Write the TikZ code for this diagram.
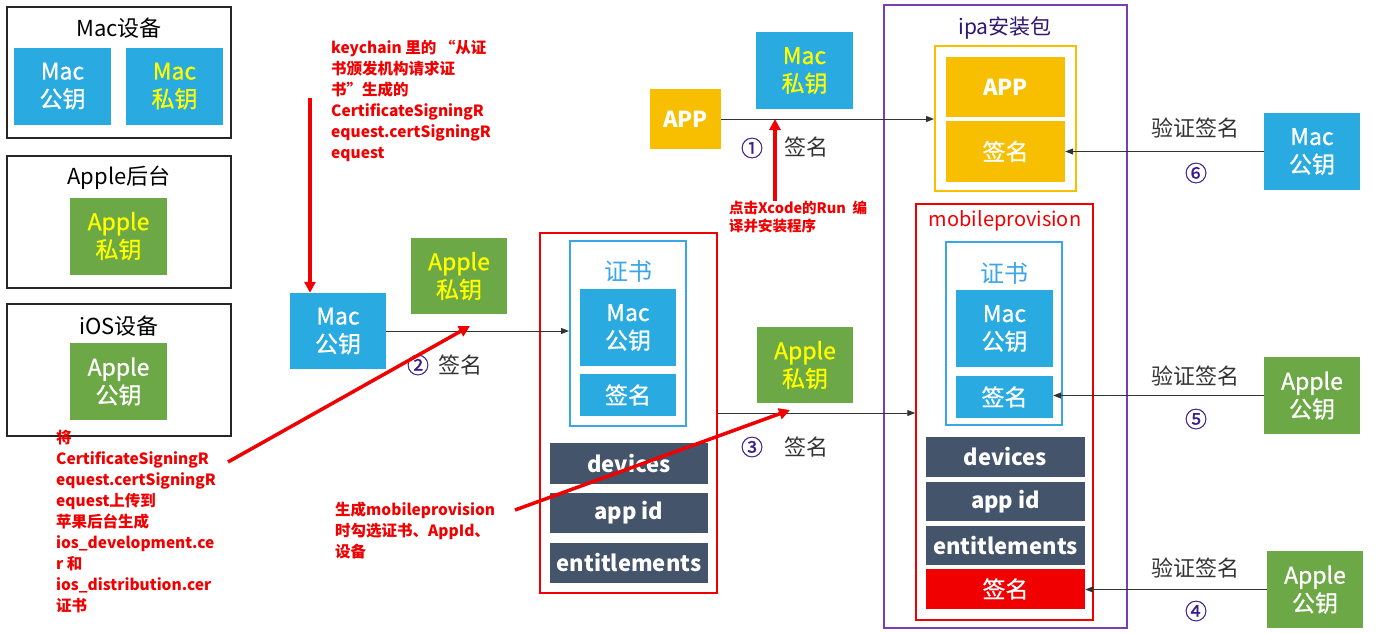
\documentclass[tikz,border=0pt]{standalone}
\usepackage{fontspec}
\setmainfont{Noto Sans CJK SC}
\newfontfamily\medfont[FakeBold=0.8]{Noto Sans CJK SC}
\usetikzlibrary{arrows.meta}
\definecolor{kblue}{HTML}{29ABE2}
\definecolor{kcert}{HTML}{3AA6E6}
\definecolor{kgreen}{HTML}{6CA845}
\definecolor{kyellow}{HTML}{F8BF00}
\definecolor{kslate}{HTML}{44546A}
\definecolor{kpurple}{HTML}{7A3DB8}
\definecolor{knum}{HTML}{3B1C8C}
\definecolor{kyt}{HTML}{FFFF00}
\definecolor{kred}{HTML}{F00000}
\definecolor{kgray}{HTML}{333333}
\tikzset{
  key/.style={minimum width=97pt, minimum height=77pt, inner sep=0pt, align=center, font=\medfont\fontsize{23}{28}\selectfont},
  bluekey/.style={key, fill=kblue, text=white},
  bluepriv/.style={key, fill=kblue, text=kyt},
  greenpub/.style={key, fill=kgreen, text=white},
  greenpriv/.style={key, fill=kgreen, text=kyt},
  frame/.style={draw=black!85, line width=1.5pt, inner sep=0pt},
  title/.style={font=\fontsize{22}{24}\selectfont, inner sep=0pt},
  bar/.style={fill=kslate, text=white, inner sep=0pt, font=\bfseries\fontsize{22}{26}\selectfont},
  note/.style={text=kred, font=\bfseries\fontsize{15.5}{21}\selectfont, align=left, inner sep=0pt, anchor=north west},
  redarr/.style={draw=kred, line width=3.5pt, -{Triangle[length=11pt,width=11pt]}},
  arr/.style={draw=kgray, line width=1pt, -{Triangle[length=8pt,width=6pt]}},
  num/.style={text=knum, font=\medfont\fontsize{22}{24}\selectfont, inner sep=0pt},
  sig/.style={text=kgray, font=\fontsize{22}{24}\selectfont, inner sep=0pt},
}
\begin{document}
\begin{tikzpicture}[x=1pt,y=-1pt]
\useasboundingbox[fill=white] (0,0) rectangle (1378,632);

% ---- left legend boxes
\node[frame, minimum width=224pt, minimum height=131pt] (macdev) at (119,72.5) {};
\node[title] (macdevt) at (119,28) {Mac设备};
\node[bluekey] (macpubL) at (62.5,86) {Mac\\公钥};
\node[bluepriv] (macprivL) at (174.5,86) {Mac\\私钥};

\node[frame, minimum width=224pt, minimum height=132pt] (appbk) at (119,222) {};
\node[title] (appbkt) at (119,178) {Apple后台};
\node[greenpriv] (appprivL) at (118.5,236) {Apple\\私钥};

\node[frame, minimum width=224pt, minimum height=132pt] (ios) at (119,370) {};
\node[title] (iost) at (119,326) {iOS设备};
\node[greenpub] (apppubL) at (118.5,381.5) {Apple\\公钥};

% ---- annotations
\node[note] (n1) at (331,40) {keychain 里的 “从证\\书颁发机构请求证\\书”生成的\\CertificateSigningR\\equest.certSigningR\\equest};
\node[note] (n2) at (56,430) {将\\CertificateSigningR\\equest.certSigningR\\equest上传到\\苹果后台生成\\ios\_development.ce\\r 和\\ios\_distribution.cer\\证书};
\node[note] (n3) at (335,502) {生成mobileprovision\\时勾选证书、AppId、\\设备};
\node[note, font=\bfseries\fontsize{14.5}{18}\selectfont] (n4) at (729,201) {点击Xcode的Run\ \ 编\\译并安装程序};

% ---- middle: certificate creation
\node[bluekey, minimum width=96pt, minimum height=76pt] (macpubM) at (338,331) {Mac\\公钥};
\node[greenpriv, minimum width=96pt, minimum height=76pt] (appprivM) at (459,276) {Apple\\私钥};
\node[num] (c2) at (418,365) {②};
\node[sig] (s2) at (460,365) {签名};

\node[draw=kred, line width=1.2pt, minimum width=177pt, minimum height=360pt, inner sep=0pt] (prov1) at (628.5,413) {};
\node[draw=kcert, line width=2pt, minimum width=116pt, minimum height=185pt, inner sep=0pt] (cert1) at (628,333.5) {};
\node[text=kcert, title, font=\fontsize{24}{26}\selectfont] (cert1t) at (628,271) {证书};
\node[bluekey, minimum width=96pt] (macpubC1) at (628,327.5) {Mac\\公钥};
\node[bluekey, minimum width=96pt, minimum height=42pt] (sigC1) at (628,395) {签名};
\node[bar, minimum width=158pt, minimum height=41pt] (dev1) at (629,463.5) {devices};
\node[bar, minimum width=158pt, minimum height=40pt] (aid1) at (629,513) {app id};
\node[bar, minimum width=158pt, minimum height=40pt] (ent1) at (629,563) {entitlements};

% ---- middle right: provision signing
\node[greenpriv, minimum width=96pt, minimum height=76pt] (appprivR) at (805,365) {Apple\\私钥};
\node[num] (c3) at (752,447) {③};
\node[sig] (s3) at (806,447) {签名};

% ---- top: app signing
\node[key, fill=kyellow, text=white, minimum width=71pt, minimum height=60pt, font=\bfseries\fontsize{22}{24}\selectfont] (app) at (685.5,119) {APP};
\node[bluepriv] (macprivT) at (804.5,70.5) {Mac\\私钥};
\node[num] (c1) at (752,148) {①};
\node[sig] (s1) at (806,147) {签名};

% ---- ipa package
\node[draw=kpurple, line width=2pt, minimum width=243pt, minimum height=623pt, inner sep=0pt] (ipa) at (1005.5,316.5) {};
\node[title, text=knum!80!black, font=\fontsize{21}{24}\selectfont] (ipat) at (1005,28) {ipa安装包};
\node[draw=kyellow, line width=2pt, minimum width=141pt, minimum height=145pt, inner sep=0pt] (ipain) at (1005.5,118.5) {};
\node[key, fill=kyellow, text=white, minimum width=119pt, minimum height=60pt, font=\bfseries\fontsize{22}{24}\selectfont] (appI) at (1005.5,87) {APP};
\node[key, fill=kyellow, text=white, minimum width=119pt, minimum height=61pt] (sigI) at (1005.5,151.5) {签名};

\node[draw=kred, line width=1.5pt, minimum width=177pt, minimum height=416pt, inner sep=0pt] (prov2) at (1004.5,412) {};
\node[title, text=kred, font=\fontsize{20}{22}\selectfont] (prov2t) at (1005,221) {mobileprovision};
\node[draw=kcert, line width=2pt, minimum width=116pt, minimum height=183pt, inner sep=0pt] (cert2) at (1004,333.5) {};
\node[text=kcert, title, font=\fontsize{24}{26}\selectfont] (cert2t) at (1004,273) {证书};
\node[bluekey] (macpubC2) at (1004.5,328.5) {Mac\\公钥};
\node[bluekey, minimum height=42pt] (sigC2) at (1004.5,397) {签名};
\node[bar, minimum width=159pt, minimum height=40pt] (dev2) at (1005.5,457) {devices};
\node[bar, minimum width=159pt, minimum height=39pt] (aid2) at (1005.5,501.5) {app id};
\node[bar, minimum width=159pt, minimum height=39pt] (ent2) at (1005.5,545.5) {entitlements};
\node[key, fill=kred, text=white, minimum width=159pt, minimum height=40pt] (sigR) at (1005.5,589) {签名};

% ---- right: verification keys
\node[bluekey, minimum width=96pt] (macpubR) at (1312,151.5) {Mac\\公钥};
\node[greenpub, minimum width=96pt] (apppubR1) at (1312,395.5) {Apple\\公钥};
\node[greenpub, minimum width=96pt] (apppubR2) at (1315,589.5) {Apple\\公钥};
\node[sig] (v6) at (1195,128) {验证签名};
\node[num] (c6) at (1196,173) {⑥};
\node[sig] (v5) at (1195,376) {验证签名};
\node[num] (c5) at (1196,419) {⑤};
\node[sig] (v4) at (1195,568) {验证签名};
\node[num] (c4) at (1196,611) {④};

% ---- black connectors
\draw[arr] (app.east) -- (app.east -| ipain.west);
\draw[arr] (macpubM.east) -- (macpubM.east -| cert1.west);
\draw[arr] (prov1.east) -- (prov1.east -| prov2.west);
\draw[arr] (macpubR.west) -- (macpubR.west -| sigI.east);
\draw[arr] (apppubR1.west) -- (apppubR1.west -| sigC2.east);
\draw[arr] (apppubR2.west) -- (apppubR2.west -| sigR.east);

% ---- red annotation arrows
\coordinate (a1s) at (310,98);
\coordinate (a2s) at (228,462);
\coordinate (a2e) at (470,326);
\coordinate (a3s) at (515,510);
\coordinate (a3e) at (790,410);
\coordinate (a4s) at (775,201);
\draw[redarr] (a1s) -- (a1s |- macpubM.north);
\draw[redarr] (a2s) -- (a2e);
\draw[redarr] (a3s) -- (a3e);
\draw[redarr] (a4s) -- (a4s |- app.east);
\end{tikzpicture}
\end{document}
